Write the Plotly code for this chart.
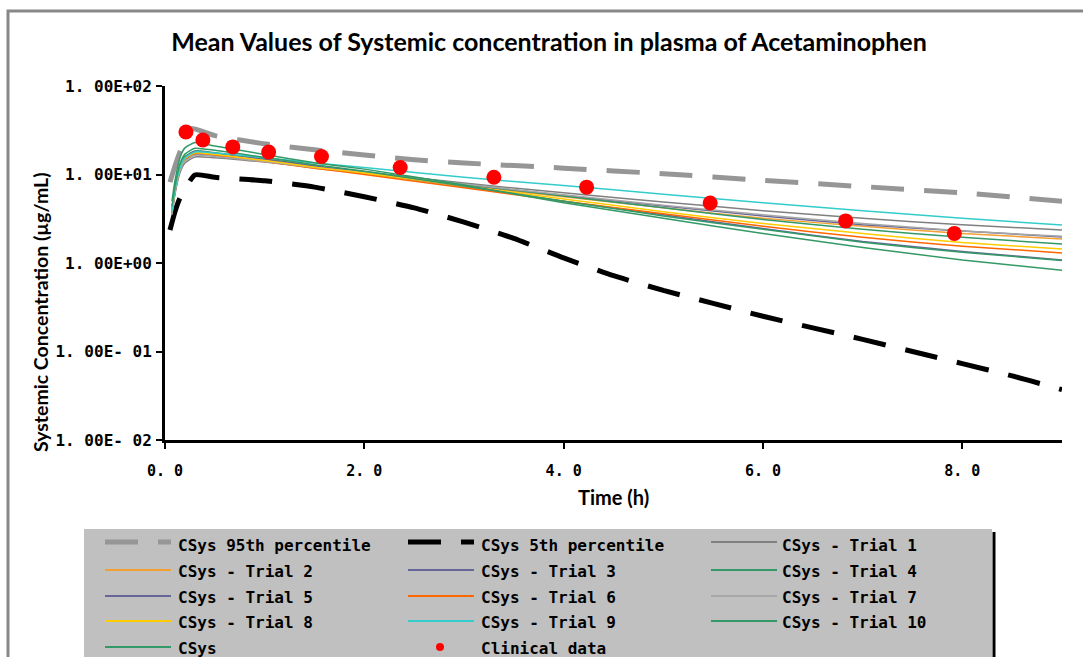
import plotly.graph_objects as go

# ---------------- data ----------------
TRIAL_TIME = [0.07, 0.1, 0.15, 0.2, 0.3, 0.5, 1, 1.5, 2, 3, 4, 5, 6, 7, 8, 9]
TRIAL_1 = [3.5, 6.0, 10.5, 13.5, 15.8, 15.5, 13.8, 12.0, 10.6, 8.0, 6.2, 4.9, 3.9, 3.2, 2.7, 2.36]
TRIAL_2 = [3.8, 6.5, 11.5, 14.8, 17.0, 16.4, 14.0, 11.8, 10.2, 7.5, 5.6, 4.2, 3.2, 2.6, 2.15, 1.87]
TRIAL_3 = [3.7, 6.3, 11.2, 14.5, 16.8, 16.3, 14.2, 12.0, 10.5, 7.7, 5.8, 4.4, 3.4, 2.7, 2.3, 1.97]
TRIAL_4 = [4.2, 7.0, 12.5, 16.0, 18.5, 17.6, 15.0, 12.6, 10.8, 7.8, 5.7, 4.2, 3.1, 2.4, 1.95, 1.64]
TRIAL_5 = [4.0, 6.8, 12.0, 15.6, 18.2, 17.4, 14.8, 12.4, 10.5, 7.3, 5.0, 3.5, 2.45, 1.75, 1.35, 1.08]
TRIAL_6 = [3.8, 6.5, 11.5, 14.8, 17.2, 16.5, 14.0, 11.8, 10.0, 7.1, 5.0, 3.6, 2.6, 1.95, 1.55, 1.30]
TRIAL_7 = [3.6, 6.2, 11.0, 14.2, 16.5, 16.0, 14.0, 12.0, 10.5, 7.8, 5.9, 4.5, 3.5, 2.8, 2.3, 2.0]
TRIAL_8 = [3.9, 6.7, 11.8, 15.2, 17.6, 16.9, 14.4, 12.1, 10.4, 7.4, 5.3, 3.8, 2.8, 2.15, 1.7, 1.44]
TRIAL_9 = [3.9, 6.6, 11.8, 15.4, 18.0, 17.5, 15.5, 13.5, 12.0, 9.3, 7.5, 6.0, 4.8, 3.9, 3.2, 2.69]
TRIAL_10 = [4.4, 7.4, 13.2, 17.0, 19.8, 18.8, 15.6, 12.9, 10.9, 7.4, 5.0, 3.4, 2.4, 1.72, 1.32, 1.07]
CSYS_MEAN = [5.0, 8.5, 15.5, 20.0, 23.0, 21.0, 16.8, 13.6, 11.5, 7.6, 4.8, 3.2, 2.15, 1.5, 1.08, 0.83]

P95_TIME = [0.05, 0.1, 0.15, 0.25, 0.5, 1, 1.5, 2, 2.5, 3, 4, 5, 6, 7, 8, 9]
P95 = [8.2, 12.5, 18.0, 33.0, 27.5, 22.2, 19.0, 16.6, 14.7, 13.5, 11.8, 10.2, 8.6, 7.3, 6.2, 5.0]

P5_TIME = [0.05, 0.1, 0.15, 0.3, 0.5, 1, 1.5, 2, 2.5, 3, 3.5, 4, 4.5, 5, 5.5, 6, 6.5, 7, 7.5, 8, 8.5, 9]
P5 = [2.36, 3.8, 5.4, 9.9, 9.3, 8.5, 7.2, 5.6, 4.2, 2.9, 1.9, 1.14, 0.72, 0.49, 0.35, 0.25, 0.185,
      0.137, 0.10, 0.073, 0.053, 0.037]

CLIN_TIME = [0.21, 0.38, 0.68, 1.04, 1.57, 2.36, 3.30, 4.23, 5.47, 6.83, 7.92]
CLIN_CONC = [30.2, 24.5, 20.5, 17.9, 16.0, 12.0, 9.3, 7.2, 4.77, 2.99, 2.16]

X_TICKS = [0, 2, 4, 6, 8]
X_TICK_TEXT = ["0. 0", "2. 0", "4. 0", "6. 0", "8. 0"]
Y_TICKS = [0.01, 0.1, 1, 10, 100]
Y_TICK_TEXT = ["1. 00E- 02", "1. 00E- 01", "1. 00E+00", "1. 00E+01", "1. 00E+02"]

TITLE = "Mean Values of Systemic concentration in plasma of Acetaminophen"

# ---------------- styles ----------------
DASH = "33px,20px"
SERIES = [
    ("CSys 95th percentile", P95_TIME, P95, "#969696", 5, DASH),
    ("CSys 5th percentile", P5_TIME, P5, "#000000", 5, DASH),
    ("CSys - Trial 1", TRIAL_TIME, TRIAL_1, "#808080", 1.5, "solid"),
    ("CSys - Trial 2", TRIAL_TIME, TRIAL_2, "#F4A030", 1.5, "solid"),
    ("CSys - Trial 3", TRIAL_TIME, TRIAL_3, "#666699", 1.5, "solid"),
    ("CSys - Trial 4", TRIAL_TIME, TRIAL_4, "#339966", 1.5, "solid"),
    ("CSys - Trial 5", TRIAL_TIME, TRIAL_5, "#666699", 1.5, "solid"),
    ("CSys - Trial 6", TRIAL_TIME, TRIAL_6, "#FF6600", 1.5, "solid"),
    ("CSys - Trial 7", TRIAL_TIME, TRIAL_7, "#A6A6A6", 1.5, "solid"),
    ("CSys - Trial 8", TRIAL_TIME, TRIAL_8, "#FFCC00", 1.5, "solid"),
    ("CSys - Trial 9", TRIAL_TIME, TRIAL_9, "#33CCCC", 1.5, "solid"),
    ("CSys - Trial 10", TRIAL_TIME, TRIAL_10, "#339966", 1.5, "solid"),
    ("CSys", TRIAL_TIME, CSYS_MEAN, "#339966", 1.5, "solid"),
]
CLIN_NAME = "Clinical data"
CLIN_COLOR = "#FF0000"

W, H = 1083, 657
L, R, T, B = 165, 1062, 86, 440  # plot area in pixels


def px_x(px):
    return (px - L) / (R - L)


def px_y(py):
    return (B - py) / (B - T)


fig = go.Figure()
for name, xs, ys, color, width, dash in SERIES:
    fig.add_trace(go.Scatter(
        x=xs, y=ys, name=name, mode="lines",
        line=dict(color=color, width=width, dash=dash, shape="spline", smoothing=0.5),
        showlegend=False,
    ))
fig.add_trace(go.Scatter(
    x=CLIN_TIME, y=CLIN_CONC, name=CLIN_NAME, mode="markers",
    marker=dict(color=CLIN_COLOR, size=15, line=dict(width=0)),
    showlegend=False,
))

mono = "DejaVu Sans Mono"
sans = "Lato"

fig.update_layout(
    width=W, height=H,
    margin=dict(l=L, r=W - R, t=T, b=H - B),
    paper_bgcolor="white", plot_bgcolor="white",
    title=dict(text=TITLE, x=549 / W, xref="container", xanchor="center",
               y=1 - 42 / H, yref="container", yanchor="middle",
               font=dict(family=sans, size=25, color="black", weight="bold")),
    xaxis=dict(range=[0, 9], tickvals=X_TICKS, ticktext=X_TICK_TEXT,
               showline=True, linecolor="black", linewidth=3, mirror=False,
               ticks="outside", ticklen=6, tickwidth=2, tickcolor="black",
               showgrid=False, zeroline=False,
               tickfont=dict(family=mono, size=15, color="black", weight="bold"),
               ticklabelstandoff=9),
    yaxis=dict(type="log", range=[-2, 2], tickvals=Y_TICKS, ticktext=Y_TICK_TEXT,
               showline=True, linecolor="black", linewidth=3,
               ticks="outside", ticklen=6, tickwidth=2, tickcolor="black",
               showgrid=False, zeroline=False,
               tickfont=dict(family=mono, size=16, color="black", weight="bold"),
               ticklabelstandoff=1),
    showlegend=False,
)

shapes = []
annotations = []

# outer chart border
shapes.append(dict(type="rect", xref="paper", yref="paper",
                   x0=px_x(8), x1=px_x(1110), y0=px_y(11), y1=px_y(720),
                   line=dict(color="#888888", width=3), fillcolor="rgba(0,0,0,0)", layer="above"))

# axis titles
annotations.append(dict(text="Time (h)", xref="paper", yref="paper", x=px_x(613), y=px_y(497),
                        xanchor="center", yanchor="middle", showarrow=False,
                        font=dict(family=sans, size=20, color="black", weight="bold")))
annotations.append(dict(text="Systemic Concentration (µg/mL)", xref="paper", yref="paper",
                        x=px_x(40), y=px_y(312), textangle=-90,
                        xanchor="center", yanchor="middle", showarrow=False,
                        font=dict(family=sans, size=19.5, color="black", weight="bold")))

# legend box
shapes.append(dict(type="rect", xref="paper", yref="paper",
                   x0=px_x(84), x1=px_x(992), y0=px_y(529), y1=px_y(720),
                   line=dict(width=0), fillcolor="#C0C0C0", layer="above"))
shapes.append(dict(type="line", xref="paper", yref="paper",
                   x0=px_x(994), x1=px_x(994), y0=px_y(532), y1=px_y(720),
                   line=dict(color="black", width=3), layer="above"))

COL_LINE_X = [105, 408, 711]
COL_TEXT_X = [176, 479, 780]
ROW_Y = [542, 570, 596, 621, 647]
entries = [(s[0], s[3], s[4], s[5]) for s in SERIES] + [(CLIN_NAME, CLIN_COLOR, None, "marker")]
for i, (name, color, width, dash) in enumerate(entries):
    r, c = divmod(i, 3)
    y = ROW_Y[r]
    x0 = COL_LINE_X[c]
    if dash == "marker":
        shapes.append(dict(type="circle", xref="paper", yref="paper",
                           x0=px_x(x0 + 28), x1=px_x(x0 + 36), y0=px_y(y + 4), y1=px_y(y - 4),
                           line=dict(width=0), fillcolor=color, layer="above"))
    else:
        shapes.append(dict(type="line", xref="paper", yref="paper",
                           x0=px_x(x0), x1=px_x(x0 + 66), y0=px_y(y), y1=px_y(y),
                           line=dict(color=color, width=width if width > 2 else 2, dash=dash),
                           layer="above"))
    annotations.append(dict(text=name, xref="paper", yref="paper",
                            x=px_x(COL_TEXT_X[c]), y=px_y(ROW_Y[r] + 3 if r == 0 else ROW_Y[r] + 1),
                            xanchor="left", yanchor="middle", showarrow=False,
                            font=dict(family=mono, size=16, color="black", weight="bold")))

fig.update_layout(shapes=shapes, annotations=annotations)
fig.write_html("out.html")
